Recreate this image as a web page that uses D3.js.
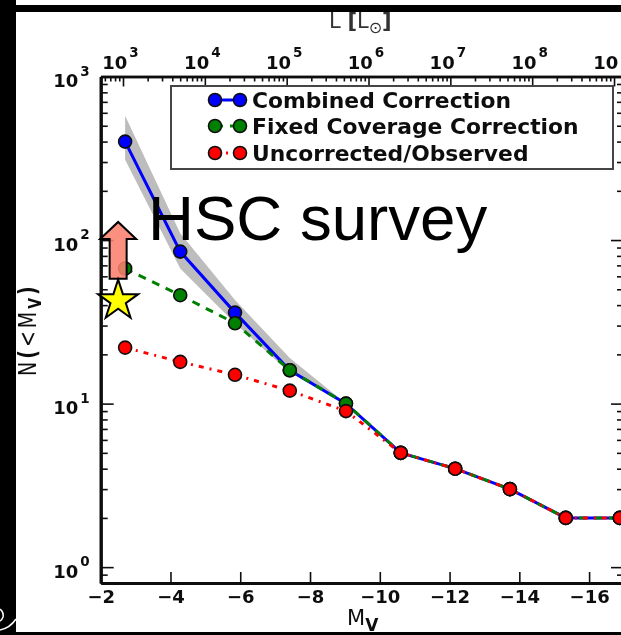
<!DOCTYPE html>
<html>
<head>
  <meta charset="utf-8">
  <title>HSC survey luminosity function</title>
  <script src="https://cdnjs.cloudflare.com/ajax/libs/d3/7.8.5/d3.min.js"></script>
</head>
<style>
  html, body { margin: 0; padding: 0; background: #fff; overflow: hidden; }
  svg { display: block; font-family: "DejaVu Sans", sans-serif; }
</style>
<body>
<svg id="svg" width="621" height="635"></svg>
<script type="text/javascript">
// values
const magnitudes = [-2.7, -4.28, -5.85, -7.42, -9.03, -10.6, -12.16, -13.73, -15.33, -16.88];
const combined = [400, 85, 36, 16, 10, 5, 4, 3, 2, 2];
const fixedCoverage = [67, 46, 31, 16, 10, 5, 4, 3, 2, 2];
const observed = [22, 18, 15, 12, 9, 5, 4, 3, 2, 2];
const bandUpper = [575, 110, 43, 19, 10];
const bandLower = [310, 67, 31, 15.5, 10];

const xTicks = [-2, -4, -6, -8, -10, -12, -14, -16];
const yTicks = [1, 10, 100, 1000];
const lumTicks = [1e3, 1e4, 1e5, 1e6, 1e7, 1e8, 1e9];
const legendLabels = ['Combined Correction', 'Fixed Coverage Correction', 'Uncorrected/Observed'];

const xDomain = [-2, -17];
const yDomain = [0.8, 1000];
const lumDomain = [534, 1.324e9];

// HSC limit marker
const hscMag = -2.5;
const hscStar = 42.6;
const hscArrow = [58, 129];

const plotLeft = 100.7, plotRight = 624, plotTop = 76.5, plotBottom = 583;

const x = d3.scaleLinear().domain(xDomain).range([plotLeft, plotRight]);
const y = d3.scaleLog().domain(yDomain).range([plotBottom, plotTop]);
const lum = d3.scaleLog().domain(lumDomain).range([plotLeft, plotRight]);

const svg = d3.select('svg');
const defs = svg.append('defs');
defs.append('filter').attr('id', 'soft')
  .attr('filterUnits', 'userSpaceOnUse')
  .attr('x', 0).attr('y', 0).attr('width', 621).attr('height', 635)
  .append('feGaussianBlur').attr('stdDeviation', 0.55);

const plot = svg.append('g').attr('filter', 'url(#soft)');

// 10 with a raised exponent, as tspans in the axis text
function powerLabel(sel, size) {
  sel.each(function(d) {
    const exp = Math.round(Math.log10(d));
    const t = d3.select(this).text(null);
    t.append('tspan').text('10');
    t.append('tspan').attr('dy', -size * 0.62).attr('dx', 2).attr('font-size', size * 0.75).text(exp);
  });
}

function styleAxis(g, width) {
  g.select('.domain').attr('stroke', '#111').attr('stroke-width', width);
  g.selectAll('line').attr('stroke', '#111').attr('stroke-width', 1.6);
  g.selectAll('text').attr('font-size', 18).attr('font-weight', 'bold').attr('fill', '#111')
    .attr('font-family', '"DejaVu Sans", sans-serif');
}

// bottom axis
const xAxisG = plot.append('g').attr('transform', `translate(0,${plotBottom})`)
  .call(d3.axisBottom(x).tickValues(xTicks).tickFormat(d3.format('d'))
    .tickSizeInner(-11).tickSizeOuter(0).tickPadding(7));
styleAxis(xAxisG, 3);

// top axis, minor then major
const lumMinor = lum.ticks().filter(d => !lumTicks.includes(d));
const topMinor = plot.append('g').attr('transform', `translate(0,${plotTop})`)
  .call(d3.axisTop(lum).tickValues(lumMinor).tickFormat('').tickSizeInner(-5).tickSizeOuter(0));
styleAxis(topMinor, 2.5);
const topMajor = plot.append('g').attr('transform', `translate(0,${plotTop})`)
  .call(d3.axisTop(lum).tickValues(lumTicks).tickSizeInner(-10).tickSizeOuter(0).tickPadding(8));
styleAxis(topMajor, 2.5);
topMajor.selectAll('text').attr('dx', -3).call(powerLabel, 18);

// left and right axes
const yMinor = y.ticks().filter(d => !yTicks.includes(d));
[[d3.axisLeft, plotLeft, -1], [d3.axisRight, plotRight, 1]].forEach(([axisFn, pos, side]) => {
  const minor = plot.append('g').attr('transform', `translate(${pos},0)`)
    .call(axisFn(y).tickValues(yMinor).tickFormat('').tickSizeInner(-7).tickSizeOuter(0));
  styleAxis(minor, 3);
  const major = plot.append('g').attr('transform', `translate(${pos},0)`)
    .call(axisFn(y).tickValues(yTicks).tickSizeInner(-13).tickSizeOuter(0).tickPadding(11));
  styleAxis(major, 3);
  if (side < 0) {
    major.selectAll('text').attr('dy', 10).call(powerLabel, 18);
  } else {
    major.selectAll('text').remove();
  }
});

// confidence band
const bandData = bandUpper.map((u, i) => ({ m: magnitudes[i], u, l: bandLower[i] }));
plot.append('path').datum(bandData)
  .attr('fill', '#bdbdbd')
  .attr('d', d3.area().x(d => x(d.m)).y0(d => y(d.l)).y1(d => y(d.u)));

const series = [
  { values: combined, color: '#0000ff', dash: null, width: 3 },
  { values: fixedCoverage, color: '#008000', dash: '8,7', width: 3 },
  { values: observed, color: '#ff0000', dash: '5,6,2,6', width: 3 }
];
const line = d3.line().x(d => x(d[0])).y(d => y(d[1]));

series.forEach(s => {
  plot.append('path').datum(d3.zip(magnitudes, s.values))
    .attr('fill', 'none').attr('stroke', s.color)
    .attr('stroke-width', s.width).attr('stroke-dasharray', s.dash).attr('d', line);
});
series.forEach(s => {
  plot.append('g').selectAll('circle').data(d3.zip(magnitudes, s.values)).enter()
    .append('circle')
    .attr('cx', d => x(d[0])).attr('cy', d => y(d[1])).attr('r', 6.5)
    .attr('fill', s.color).attr('stroke', '#111').attr('stroke-width', 1.6);
});

// legend
const legend = plot.append('g');
legend.append('rect').attr('x', 171).attr('y', 86).attr('width', 442).attr('height', 83)
  .attr('fill', '#fff').attr('stroke', '#444').attr('stroke-width', 2);
const legendY = d3.scalePoint().domain(legendLabels).range([100, 153]);
legendLabels.forEach((name, i) => {
  const s = series[i];
  const ly = legendY(name) + (i === 1 ? -0.5 : 0);
  legend.append('line').attr('x1', 215).attr('x2', 240).attr('y1', ly).attr('y2', ly)
    .attr('stroke', s.color).attr('stroke-width', 3).attr('stroke-dasharray', s.dash);
  [215, 240].forEach(cx => {
    legend.append('circle').attr('cx', cx).attr('cy', ly).attr('r', 6.5)
      .attr('fill', s.color).attr('stroke', '#111').attr('stroke-width', 1.6);
  });
  legend.append('text').attr('transform', `translate(252,${ly + 8}) scale(1.065,1)`)
    .attr('font-size', 20.5).attr('font-weight', 'bold').attr('fill', '#111').text(name);
});

// axis titles
const xTitle = plot.append('text').attr('x', 347).attr('y', 625)
  .attr('font-size', 21).attr('fill', '#111');
xTitle.append('tspan').text('M');
xTitle.append('tspan').attr('dy', 6).attr('font-size', 17).attr('font-weight', 'bold').text('V');

const yTitle = plot.append('text')
  .attr('transform', 'translate(36,376) rotate(-90) scale(1,1.3)')
  .attr('font-size', 19).attr('letter-spacing', 3).attr('fill', '#111');
yTitle.append('tspan').text('N');
yTitle.append('tspan').attr('font-weight', 'bold').text('(');
yTitle.append('tspan').text('<M');
yTitle.append('tspan').attr('dy', 4).attr('font-size', 14).attr('font-weight', 'bold').text('V');
yTitle.append('tspan').attr('dy', -4).attr('font-weight', 'bold').text(')');

const lumTitle = plot.append('text').attr('x', 329).attr('y', 28)
  .attr('font-size', 21).attr('fill', '#333');
lumTitle.append('tspan').text('L ');
lumTitle.append('tspan').attr('font-weight', 'bold').text('[');
lumTitle.append('tspan').text('L');
lumTitle.append('tspan').attr('dy', 5).attr('font-size', 16).text('\u2299');
lumTitle.append('tspan').attr('dy', -5).attr('font-weight', 'bold').text(']');

// arrow and star pasted over the plot
const arrowX = x(hscMag), arrowTail = y(hscArrow[0]), arrowTip = y(hscArrow[1]);
const arrowPath = d3.path();
arrowPath.moveTo(arrowX - 8.5, arrowTail);
arrowPath.lineTo(arrowX - 8.5, arrowTip + 17);
arrowPath.lineTo(arrowX - 18, arrowTip + 17);
arrowPath.lineTo(arrowX, arrowTip);
arrowPath.lineTo(arrowX + 18, arrowTip + 17);
arrowPath.lineTo(arrowX + 8.5, arrowTip + 17);
arrowPath.lineTo(arrowX + 8.5, arrowTail);
arrowPath.closePath();
svg.append('path').attr('d', arrowPath.toString())
  .attr('fill', '#fa7f6e').attr('fill-opacity', 0.88)
  .attr('stroke', '#000').attr('stroke-width', 2);

svg.append('path')
  .attr('d', d3.symbol(d3.symbolStar, 500)())
  .attr('transform', `translate(${x(hscMag)},${y(hscStar)})`)
  .attr('fill', '#ffff00').attr('stroke', '#000').attr('stroke-width', 2);

svg.append('text').attr('x', 148).attr('y', 240)
  .style('font-family', '"Liberation Sans", Arial, sans-serif')
  .attr('font-size', 63.6).attr('fill', '#000').text('HSC survey');

// black slide frame
const frame = svg.append('g').attr('fill', '#000');
frame.append('rect').attr('x', 0).attr('y', 0).attr('width', 16).attr('height', 635);
frame.append('rect').attr('x', 0).attr('y', 5).attr('width', 621).attr('height', 7);
frame.append('rect').attr('x', 0).attr('y', 632).attr('width', 621).attr('height', 3);
svg.append('path').attr('d', 'M16 619 Q10 628 0 630 M0 609 Q4 612 3 617 Q2 620 0 621')
  .attr('fill', 'none').attr('stroke', '#fff').attr('stroke-width', 1.5);
</script>
</body>
</html>
